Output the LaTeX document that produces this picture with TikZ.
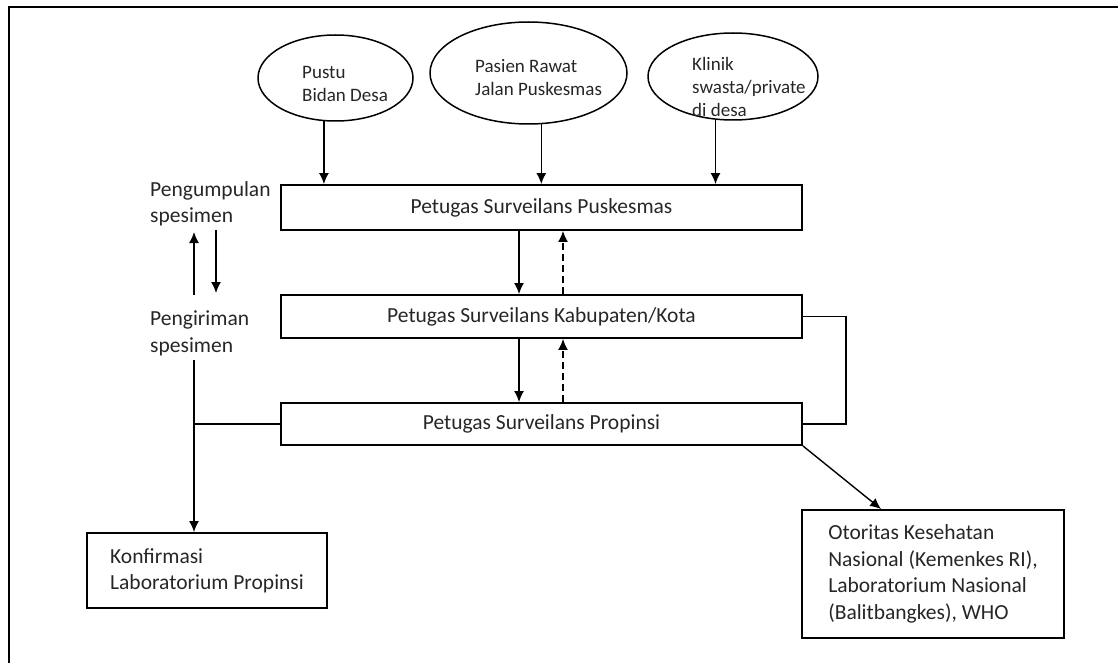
\documentclass[tikz,border=0pt]{standalone}
\usepackage{fontspec}
\setmainfont{Carlito}
\usetikzlibrary{shapes.geometric,arrows.meta,calc}
\begin{document}
\begin{tikzpicture}[x=1pt,y=-1pt,
  box/.style={draw,line width=1.9pt,rectangle,inner sep=0pt,text=black!85,font=\fontsize{21.5}{26}\selectfont},
  oval/.style={draw,line width=1.5pt,ellipse,inner sep=0pt},
  otext/.style={inner sep=0pt,anchor=west,align=left,text=black!85,font=\fontsize{19}{23}\selectfont},
  ltext/.style={inner sep=0pt,anchor=west,align=left,text=black!85,font=\fontsize{21.5}{26.5}\selectfont},
  arr/.style={line width=1.4pt,-{Latex[length=11pt,width=10pt]}},
  conn/.style={line width=1.4pt},
  dsh/.style={dash pattern=on 7pt off 4pt}
]
\useasboundingbox (0,0) rectangle (1118,663);
\draw[line width=2.4pt] (1118,7) -- (9,7) -- (9,663);

% ellipses
\node[oval,minimum width=155,minimum height=86] (E1) at (335.5,78) {};
\node[oval,minimum width=197,minimum height=102] (E2) at (528.5,73) {};
\node[oval,minimum width=170,minimum height=87] (E3) at (733,76.5) {};
\node[otext] (T1) at (302,83.5) {Pustu\\Bidan Desa};
\node[otext] (T2) at (475,78) {Pasien Rawat\\Jalan Puskesmas};
\node[otext] (T3) at (692,86.5) {Klinik\\swasta/private\\di desa};

% boxes
\node[box,minimum width=521,minimum height=45] (B1) at (541.5,207.5) {Petugas Surveilans Puskesmas};
\node[box,minimum width=521,minimum height=43] (B2) at (541.5,316.5) {Petugas Surveilans Kabupaten/Kota};
\node[box,minimum width=521,minimum height=42] (B3) at (541.5,424) {Petugas Surveilans Propinsi};
\node[box,minimum width=240,minimum height=75,align=left] (K1) at (207,570.5) {Konfirmasi\\Laboratorium Propinsi};
\node[box,minimum width=262,minimum height=128,align=left,font=\fontsize{21.5}{26.5}\selectfont] (O) at (933,574) {Otoritas Kesehatan\\Nasional (Kemenkes RI),\\Laboratorium Nasional\\(Balitbangkes), WHO};

% left labels
\node[ltext] (L1) at (150,204) {Pengumpulan\\spesimen};
\node[ltext] (L2) at (150,333.5) {Pengiriman\\spesimen};

% ellipse arrows
\draw[arr] (E1.-105) -- (E1.-105 |- B1.north);
\draw[arr] (E2.-76) -- (E2.-76 |- B1.north);
\draw[arr] (E3.-112) -- (E3.-112 |- B1.north);

% box to box
\draw[arr] ([xshift=-22.5]B1.south) -- ([xshift=-22.5]B2.north);
\draw[arr,dsh] ([xshift=21.5]B2.north) -- ([xshift=21.5]B1.south);
\draw[arr] ([xshift=-22.5]B2.south) -- ([xshift=-22.5]B3.north);
\draw[arr,dsh] ([xshift=21.5]B3.north) -- ([xshift=21.5]B2.south);

% left arrows
\coordinate (a1) at (194,295);
\coordinate (a2) at (194,232);
\coordinate (b1) at (216,230);
\coordinate (b2) at (216,293);
\draw[arr] (a1) -- (a2);
\draw[arr] (b1) -- (b2);
\coordinate (c1) at (194,360);
\draw[arr] (c1) -- (c1 |- K1.north);
\draw[conn] (c1 |- B3.west) -- (B3.west);

% right loop
\draw[conn] (B2.east) -- ++(43,0) |- (B3.east);

% diagonal
\draw[arr] (B3.south east) -- ([xshift=80]O.north west);
\end{tikzpicture}
\end{document}
